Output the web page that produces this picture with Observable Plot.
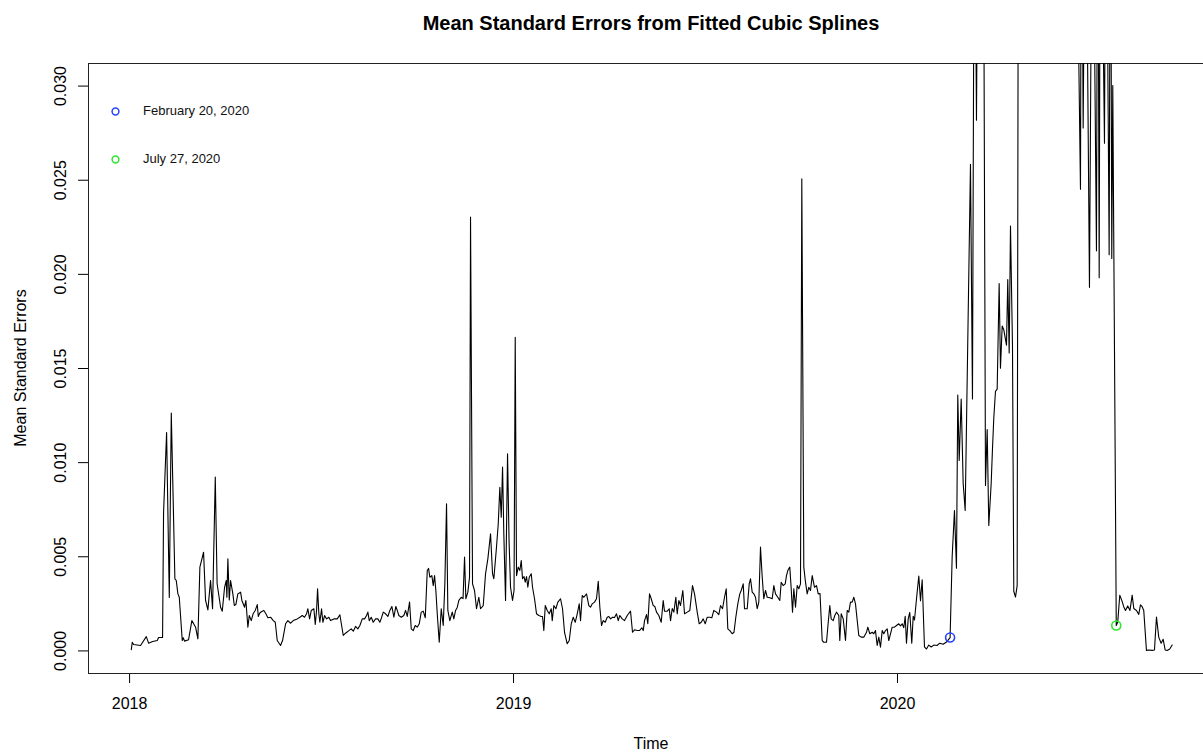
<!DOCTYPE html>
<html>
<head>
<meta charset="utf-8">
<script src="https://cdn.jsdelivr.net/npm/d3@7"></script>
<script src="https://cdn.jsdelivr.net/npm/@observablehq/plot@0.6"></script>
<style>
  html, body { margin: 0; padding: 0; background: #fff; overflow: hidden; }
  #wrap { position: relative; width: 1203px; height: 752px; overflow: hidden;
          font-family: "Liberation Sans", Arial, Helvetica, sans-serif; color: #000; }
  #title { position: absolute; top: 13px; left: 651px; transform: translateX(-50%);
           font-size: 20px; font-weight: bold; line-height: 20px; white-space: nowrap; }
  #chart { position: absolute; top: 45px; left: 0; }
  #xlab { position: absolute; top: 736px; left: 651px; transform: translateX(-50%);
          font-size: 16px; line-height: 16px; white-space: nowrap; }
  #ylab { position: absolute; left: -79px; top: 360px; width: 200px; height: 16px;
          text-align: center; font-size: 16px; line-height: 16px; white-space: nowrap;
          transform: rotate(-90deg); }
  .leg { position: absolute; left: 109px; height: 14px; font-size: 13px; line-height: 14px;
         white-space: nowrap; color: #111; }
  .leg svg { position: absolute; left: 0; top: 1px; }
  .leg span { position: absolute; left: 34px; top: 0; }
</style>
</head>
<body>
<div id="wrap">
  <div id="title">Mean Standard Errors from Fitted Cubic Splines</div>
  <div id="chart"></div>
  <div id="xlab">Time</div>
  <div id="ylab">Mean Standard Errors</div>
</div>
<script>
// ---- data (decimal years, mean standard errors) ----
const time2018 = [2018.0044,2018.0070,2018.0104,2018.0286,2018.0435,2018.0495,2018.0599,2018.0721,2018.0755,2018.0859,2018.0885,2018.0964,2018.1034,2018.1086,2018.1180,2018.1216,2018.1258,2018.1294,2018.1372,2018.1398,2018.1432,2018.1536,2018.1622,2018.1719,2018.1779,2018.1831,2018.1927,2018.1979,2018.2039,2018.2109,2018.2161,2018.2232,2018.2279,2018.2370,2018.2414,2018.2474,2018.2518,2018.2534,2018.2560,2018.2596,2018.2630,2018.2690,2018.2727,2018.2768,2018.2820,2018.2891,2018.2925,2018.2995,2018.3029,2018.3081,2018.3117,2018.3169,2018.3221,2018.3273,2018.3326,2018.3352,2018.3385,2018.3430,2018.3497,2018.3550,2018.3602,2018.3672,2018.3742,2018.3794,2018.3846,2018.3932,2018.3984,2018.4063,2018.4122,2018.4193,2018.4263,2018.4367,2018.4435,2018.4497,2018.4557,2018.4609,2018.4643,2018.4688,2018.4732,2018.4800,2018.4836,2018.4870,2018.4896,2018.4930,2018.4956,2018.5000,2018.5034,2018.5078,2018.5130,2018.5190,2018.5234,2018.5320,2018.5409,2018.5477,2018.5565,2018.5625,2018.5711,2018.5773,2018.5826,2018.5885,2018.5945,2018.5998,2018.6060,2018.6120,2018.6172,2018.6206,2018.6242,2018.6294,2018.6346,2018.6406,2018.6466,2018.6518,2018.6563,2018.6607,2018.6667,2018.6727,2018.6779,2018.6831,2018.6883,2018.6935,2018.6971,2018.7013,2018.7076,2018.7143,2018.7188,2018.7232,2018.7292,2018.7336,2018.7388,2018.7440,2018.7492,2018.7544,2018.7596,2018.7648,2018.7701,2018.7753,2018.7787,2018.7820,2018.7872,2018.7909,2018.7943,2018.7977,2018.8013,2018.8065,2018.8117,2018.8169,2018.8211,2018.8255,2018.8289,2018.8341,2018.8404,2018.8445,2018.8490,2018.8534,2018.8576,2018.8638,2018.8685,2018.8724,2018.8758,2018.8810,2018.8854,2018.8880,2018.8932,2018.8984,2018.9036,2018.9096,2018.9141,2018.9211,2018.9271,2018.9331,2018.9401,2018.9453,2018.9487,2018.9549,2018.9602,2018.9643,2018.9680,2018.9714,2018.9747,2018.9792,2018.9844,2018.9883,2018.9922,2018.9974];
const se2018 = [0.00006,0.00046,0.00034,0.00029,0.00076,0.00041,0.00050,0.00055,0.00071,0.00071,0.00735,0.01160,0.00284,0.01263,0.00383,0.00374,0.00303,0.00285,0.00055,0.00070,0.00052,0.00059,0.00161,0.00126,0.00064,0.00445,0.00524,0.00268,0.00218,0.00374,0.00224,0.00923,0.00358,0.00232,0.00211,0.00338,0.00374,0.00285,0.00489,0.00271,0.00374,0.00303,0.00241,0.00246,0.00303,0.00312,0.00268,0.00232,0.00268,0.00126,0.00188,0.00161,0.00199,0.00215,0.00246,0.00183,0.00199,0.00208,0.00215,0.00197,0.00176,0.00179,0.00161,0.00152,0.00055,0.00029,0.00055,0.00144,0.00161,0.00147,0.00161,0.00170,0.00179,0.00188,0.00179,0.00197,0.00224,0.00170,0.00215,0.00224,0.00140,0.00215,0.00330,0.00197,0.00152,0.00224,0.00152,0.00188,0.00170,0.00179,0.00161,0.00170,0.00170,0.00192,0.00082,0.00094,0.00108,0.00117,0.00105,0.00130,0.00117,0.00135,0.00170,0.00170,0.00188,0.00206,0.00161,0.00179,0.00152,0.00170,0.00170,0.00152,0.00177,0.00206,0.00197,0.00183,0.00215,0.00236,0.00179,0.00236,0.00215,0.00188,0.00179,0.00188,0.00215,0.00183,0.00259,0.00117,0.00108,0.00135,0.00126,0.00144,0.00206,0.00211,0.00176,0.00427,0.00438,0.00391,0.00400,0.00347,0.00400,0.00321,0.00197,0.00046,0.00224,0.00135,0.00356,0.00781,0.00215,0.00161,0.00206,0.00170,0.00215,0.00231,0.00268,0.00285,0.00278,0.00498,0.00277,0.00312,0.00391,0.02304,0.00356,0.00321,0.00224,0.00285,0.00224,0.00241,0.00410,0.00489,0.00622,0.00410,0.00383,0.00533,0.00675,0.00869,0.00710,0.00976,0.00622,0.00268,0.01047,0.00586,0.00338,0.00268];

const time2019 = [2019.0013,2019.0044,2019.0078,2019.0122,2019.0164,2019.0201,2019.0234,2019.0273,2019.0305,2019.0339,2019.0372,2019.0409,2019.0461,2019.0495,2019.0547,2019.0599,2019.0659,2019.0721,2019.0755,2019.0789,2019.0826,2019.0878,2019.0930,2019.0982,2019.1008,2019.1050,2019.1102,2019.1154,2019.1224,2019.1276,2019.1328,2019.1398,2019.1451,2019.1503,2019.1555,2019.1607,2019.1659,2019.1711,2019.1745,2019.1789,2019.1831,2019.1901,2019.1961,2019.2005,2019.2050,2019.2109,2019.2161,2019.2206,2019.2248,2019.2292,2019.2336,2019.2388,2019.2440,2019.2482,2019.2526,2019.2578,2019.2630,2019.2682,2019.2727,2019.2768,2019.2831,2019.2891,2019.2961,2019.3047,2019.3099,2019.3151,2019.3221,2019.3281,2019.3341,2019.3378,2019.3412,2019.3464,2019.3497,2019.3542,2019.3586,2019.3638,2019.3680,2019.3724,2019.3784,2019.3846,2019.3898,2019.3932,2019.4003,2019.4055,2019.4089,2019.4133,2019.4175,2019.4227,2019.4263,2019.4305,2019.4349,2019.4409,2019.4453,2019.4524,2019.4591,2019.4661,2019.4714,2019.4784,2019.4836,2019.4888,2019.4940,2019.4992,2019.5044,2019.5112,2019.5164,2019.5216,2019.5287,2019.5346,2019.5391,2019.5443,2019.5495,2019.5539,2019.5581,2019.5633,2019.5695,2019.5742,2019.5789,2019.5841,2019.5893,2019.5930,2019.5982,2019.6016,2019.6086,2019.6138,2019.6172,2019.6216,2019.6258,2019.6302,2019.6346,2019.6388,2019.6432,2019.6477,2019.6518,2019.6563,2019.6607,2019.6675,2019.6737,2019.6779,2019.6823,2019.6883,2019.6935,2019.6971,2019.7023,2019.7076,2019.7109,2019.7143,2019.7195,2019.7232,2019.7266,2019.7300,2019.7344,2019.7388,2019.7430,2019.7474,2019.7508,2019.7560,2019.7604,2019.7648,2019.7690,2019.7734,2019.7779,2019.7839,2019.7891,2019.7935,2019.7982,2019.8039,2019.8081,2019.8151,2019.8185,2019.8237,2019.8273,2019.8326,2019.8367,2019.8411,2019.8471,2019.8497,2019.8534,2019.8586,2019.8646,2019.8690,2019.8732,2019.8776,2019.8820,2019.8862,2019.8906,2019.8992,2019.9055,2019.9122,2019.9193,2019.9227,2019.9279,2019.9341,2019.9383,2019.9427,2019.9471,2019.9513,2019.9557,2019.9602,2019.9643,2019.9688,2019.9732,2019.9773,2019.9818,2019.9862,2019.9922,2019.9974];
const se2019 = [0.00321,0.01666,0.00400,0.00445,0.00427,0.00480,0.00383,0.00395,0.00365,0.00395,0.00338,0.00391,0.00410,0.00338,0.00277,0.00197,0.00188,0.00183,0.00183,0.00108,0.00241,0.00215,0.00197,0.00224,0.00161,0.00241,0.00224,0.00259,0.00277,0.00224,0.00099,0.00038,0.00055,0.00144,0.00179,0.00152,0.00197,0.00250,0.00161,0.00294,0.00285,0.00303,0.00241,0.00232,0.00250,0.00259,0.00277,0.00370,0.00232,0.00135,0.00161,0.00152,0.00179,0.00183,0.00170,0.00179,0.00177,0.00197,0.00161,0.00188,0.00170,0.00161,0.00188,0.00211,0.00099,0.00112,0.00108,0.00108,0.00123,0.00108,0.00161,0.00193,0.00144,0.00303,0.00277,0.00241,0.00236,0.00206,0.00188,0.00152,0.00268,0.00211,0.00211,0.00224,0.00161,0.00225,0.00206,0.00285,0.00197,0.00268,0.00241,0.00321,0.00197,0.00206,0.00215,0.00347,0.00303,0.00206,0.00144,0.00152,0.00170,0.00144,0.00179,0.00179,0.00176,0.00215,0.00206,0.00193,0.00241,0.00224,0.00285,0.00330,0.00117,0.00108,0.00091,0.00099,0.00179,0.00250,0.00303,0.00321,0.00356,0.00224,0.00224,0.00356,0.00383,0.00312,0.00303,0.00285,0.00224,0.00259,0.00551,0.00391,0.00277,0.00321,0.00285,0.00282,0.00277,0.00347,0.00303,0.00285,0.00268,0.00365,0.00347,0.00356,0.00400,0.00427,0.00445,0.00330,0.00206,0.00330,0.00232,0.00347,0.00330,0.00356,0.02507,0.00445,0.00365,0.00303,0.00338,0.00321,0.00400,0.00338,0.00347,0.00303,0.00305,0.00055,0.00046,0.00046,0.00126,0.00241,0.00170,0.00161,0.00188,0.00206,0.00188,0.00055,0.00197,0.00170,0.00055,0.00215,0.00206,0.00259,0.00259,0.00285,0.00250,0.00082,0.00073,0.00073,0.00099,0.00126,0.00091,0.00099,0.00091,0.00108,0.00029,0.00073,0.00020,0.00108,0.00091,0.00108,0.00117,0.00055,0.00091,0.00126,0.00126,0.00135];

const time2020 = [2020.0034,2020.0078,2020.0122,2020.0164,2020.0201,2020.0234,2020.0279,2020.0320,2020.0372,2020.0409,2020.0443,2020.0495,2020.0555,2020.0599,2020.0643,2020.0703,2020.0755,2020.0815,2020.0878,2020.0945,2020.1029,2020.1102,2020.1190,2020.1276,2020.1370,2020.1424,2020.1484,2020.1536,2020.1570,2020.1607,2020.1659,2020.1711,2020.1763,2020.1901,2020.1953,2020.2005,2020.2057,2020.2109,2020.2161,2020.2232,2020.2292,2020.2336,2020.2378,2020.2440,2020.2474,2020.2508,2020.2552,2020.2596,2020.2648,2020.2682,2020.2727,2020.2768,2020.2839,2020.2872,2020.2909,2020.2943,2020.2995,2020.3029,2020.3073,2020.3117,2020.3151,2020.3333,2020.3594,2020.3854,2020.4115,2020.4375,2020.4635,2020.4766,2020.4792,2020.4836,2020.4896,2020.5000,2020.5078,2020.5182,2020.5216,2020.5253,2020.5286,2020.5391,2020.5430,2020.5513,2020.5547,2020.5581,2020.5607,2020.5698,2020.5737,2020.5789,2020.5846,2020.5893,2020.5938,2020.5997,2020.6055,2020.6112,2020.6154,2020.6224,2020.6284,2020.6328,2020.6372,2020.6414,2020.6484,2020.6544,2020.6633,2020.6693,2020.6745,2020.6805,2020.6867,2020.6919,2020.6971,2020.7023,2020.7091,2020.7154];
const se2020 = [0.00144,0.00133,0.00144,0.00123,0.00184,0.00041,0.00170,0.00204,0.00041,0.00184,0.00164,0.00276,0.00398,0.00266,0.00378,0.00021,0.00010,0.00031,0.00021,0.00031,0.00029,0.00041,0.00035,0.00047,0.00071,0.00500,0.00746,0.00439,0.01359,0.01011,0.01338,0.00889,0.00746,0.02585,0.01338,0.04500,0.02819,0.04500,0.05000,0.04500,0.00879,0.01176,0.00666,0.00889,0.01072,0.01236,0.01379,0.01390,0.01951,0.01502,0.01726,0.01706,0.01624,0.01972,0.01583,0.02257,0.01624,0.00317,0.00286,0.00347,0.04500,0.05500,0.06000,0.05500,0.06000,0.05000,0.04500,0.02452,0.04500,0.02778,0.04500,0.01931,0.04500,0.02125,0.04500,0.01982,0.04500,0.02697,0.04500,0.02104,0.04500,0.02084,0.03003,0.00135,0.00154,0.00296,0.00266,0.00235,0.00215,0.00239,0.00215,0.00296,0.00225,0.00215,0.00194,0.00245,0.00235,0.00215,0.00003,0.00005,0.00003,0.00005,0.00180,0.00072,0.00041,0.00062,0.00005,0.00002,0.00010,0.00031];

// highlighted observations
const markerLabels = ["February 20, 2020", "July 27, 2020"];
const markerTimes = [2020.1370, 2020.5698];
const markerValues = [0.00071, 0.00135];

// axis ticks
const xTicks = [2018, 2019, 2020];
const yTicks = [0, 0.005, 0.010, 0.015, 0.020, 0.025, 0.030];

// ---- styles ----
const markerColors = ["#2443ff", "#2fe62f"];

// ---- build ----
const series = [
  ...time2018.map((t, i) => ({t, v: se2018[i]})),
  ...time2019.map((t, i) => ({t, v: se2019[i]})),
  ...time2020.map((t, i) => ({t, v: se2020[i]}))
];
const markers = markerTimes.map((t, i) => ({t, v: markerValues[i], label: markerLabels[i]}));

// R-style 4% padding on ylim c(0, 0.03); the reference image is cropped on the right
const yLim = [0, 0.03];
const yPad = 0.04 * (yLim[1] - yLim[0]);
const yDomain = [yLim[0] - yPad, yLim[1] + yPad];
const xDomain = [2017.893, 2020.797];

const chart = Plot.plot({
  width: 1203,
  height: 707,
  marginLeft: 88,
  marginRight: 0,
  marginTop: 18,
  marginBottom: 79,
  style: {fontFamily: '"Liberation Sans", Arial, Helvetica, sans-serif', fontSize: "16px", background: "#fff", color: "#000"},
  x: {domain: xDomain, ticks: xTicks, tickFormat: d3.format("d"), tickSize: 10, tickPadding: 14, label: null},
  y: {domain: yDomain, ticks: yTicks, tickFormat: d3.format(".3f"), tickSize: 10, tickPadding: 13, tickRotate: -90, label: null},
  marks: [
    Plot.ruleY(yDomain, {stroke: "#222", strokeWidth: 1}),
    Plot.ruleX([xDomain[0]], {stroke: "#222", strokeWidth: 1}),
    Plot.lineY(series, {x: "t", y: "v", stroke: "#000", strokeWidth: 1.1, clip: true}),
    Plot.dot(markers.slice(0, 1), {x: "t", y: "v", r: 4.5, fill: "none", stroke: markerColors[0], strokeWidth: 1.6}),
    Plot.dot(markers.slice(1, 2), {x: "t", y: "v", r: 4.5, fill: "none", stroke: markerColors[1], strokeWidth: 1.6})
  ]
});
document.getElementById("chart").appendChild(chart);

// legend (top-left, inside the plot area)
const wrap = document.getElementById("wrap");
markerLabels.forEach((lab, i) => {
  const row = document.createElement("div");
  row.className = "leg";
  row.style.top = (104 + i * 48) + "px";
  row.innerHTML = `<svg width="13" height="13"><circle cx="6.5" cy="6.5" r="3.4" fill="none" stroke="${markerColors[i]}" stroke-width="1.5"/></svg><span></span>`;
  row.querySelector("span").textContent = lab;
  wrap.appendChild(row);
});
</script>
</body>
</html>
